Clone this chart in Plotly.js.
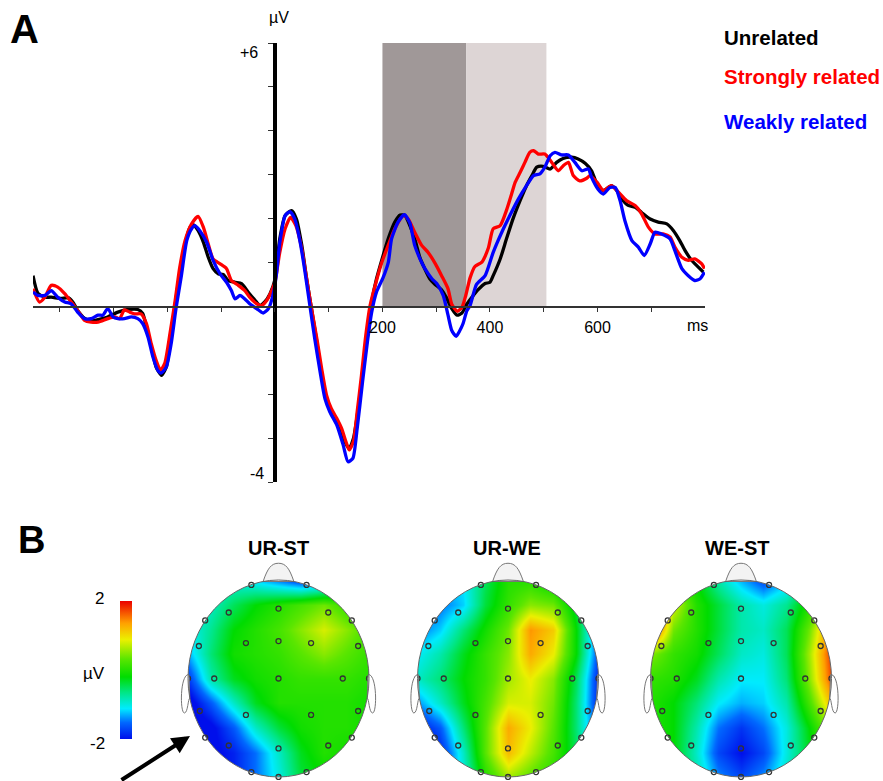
<!DOCTYPE html>
<html>
<head>
<meta charset="utf-8">
<script src="https://cdn.plot.ly/plotly-3.0.1.min.js"></script>
<style>html,body{margin:0;padding:0;background:#fff}#chart{width:883px;height:781px}</style>
</head>
<body>
<div id="chart"></div>
<script>
// ---------- ERP waveforms (time in ms, amplitude in µV) ----------
const timeUnrelated = [-450,-441,-428,-416,-398,-385,-376,-367,-354,-342,-329,-311,-292,-273,-255,-246,-239,-230,-221,-211,-202,-194,-186,-177,-167,-158,-152,-143,-133,-124,-115,-105,-96,-87,-74,-62,-50,-37,-28,-19,-9,0,9,19,31,40,50,59,68,78,87,96,108,121,130,138,146,155,164,174,180,189,201,211,223,233,242,251,260,270,279,288,298,310,319,329,339,348,357,366,378,391,400,406,419,431,443,456,468,478,487,499,512,524,536,552,564,577,589,599,611,626,636,645,657,670,682,698,713,729,741,753,763,775,788,797];
const uvUnrelated = [0.70,0.30,0.21,0.21,0.18,0.20,0.10,-0.09,-0.27,-0.33,-0.30,-0.24,-0.13,-0.07,-0.07,-0.16,-0.47,-0.92,-1.38,-1.57,-1.38,-0.75,0.0,0.75,1.43,1.80,1.86,1.73,1.46,1.12,0.86,0.74,0.73,0.59,0.55,0.52,0.33,0.14,0.02,0.10,0.29,0.61,1.54,2.07,2.18,1.99,1.39,0.63,-0.05,-0.81,-1.57,-2.10,-2.48,-2.78,-3.08,-3.24,-3.01,-2.33,-1.42,-0.51,0.10,0.63,1.15,1.55,1.92,2.08,2.07,1.84,1.54,1.10,0.85,0.63,0.50,0.38,0.20,-0.05,-0.20,-0.15,0.05,0.20,0.38,0.52,0.55,0.70,1.08,1.55,2.00,2.41,2.75,2.98,3.17,3.19,3.13,3.28,3.37,3.40,3.36,3.26,3.09,2.79,2.64,2.75,2.64,2.45,2.30,2.26,2.14,1.99,1.92,1.88,1.73,1.50,1.27,1.05,0.89,0.78];

const timeStrongly = [-450,-438,-428,-416,-404,-391,-379,-367,-354,-342,-329,-311,-298,-289,-280,-270,-261,-249,-239,-230,-221,-213,-205,-195,-186,-177,-167,-155,-143,-133,-124,-115,-102,-90,-81,-68,-56,-47,-34,-25,-15,-6,0,9,19,29,39,50,59,68,78,87,96,105,115,124,132,138,146,153,161,169,177,189,199,211,223,239,248,260,273,285,298,310,322,329,339,348,355,363,372,385,397,406,419,431,440,447,456,465,474,481,490,502,515,527,536,546,555,567,580,586,599,611,626,639,654,670,682,695,707,722,735,744,757,769,781,794,799];
const uvStrongly = [0.40,0.10,0.21,0.48,0.44,0.29,0.10,-0.09,-0.32,-0.36,-0.36,-0.28,-0.24,-0.28,-0.08,-0.13,-0.17,-0.17,-0.39,-0.85,-1.23,-1.45,-1.30,-0.60,0.10,0.89,1.50,1.88,2.05,1.80,1.42,1.08,0.97,0.86,0.59,0.48,0.36,0.21,0.06,0.02,0.14,0.36,0.55,1.23,1.77,2.03,1.84,1.31,0.63,-0.05,-0.73,-1.42,-2.02,-2.33,-2.55,-2.78,-3.08,-3.27,-3.08,-2.40,-1.57,-0.66,0.02,0.59,1.01,1.40,1.77,2.07,1.99,1.69,1.39,1.23,0.98,0.70,0.40,0.05,-0.11,-0.02,0.25,0.65,0.91,1.01,1.33,1.77,1.84,2.20,2.55,2.83,3.05,3.28,3.51,3.55,3.47,3.47,3.28,3.09,3.20,3.28,2.98,2.86,2.92,2.98,2.83,2.64,2.75,2.60,2.41,2.30,2.11,1.80,1.65,1.65,1.58,1.35,1.12,1.05,1.08,0.97,0.86];

const timeWeakly = [-450,-441,-428,-416,-404,-391,-379,-367,-354,-342,-329,-320,-311,-301,-292,-280,-267,-255,-246,-236,-227,-218,-212,-202,-193,-184,-174,-164,-155,-149,-140,-127,-115,-102,-90,-81,-74,-65,-56,-47,-34,-22,-12,-3,3,9,19,28,37,47,56,65,74,84,93,102,115,127,136,145,153,163,172,180,189,201,211,217,229,241,251,260,270,279,292,301,313,322,329,337,344,350,357,363,375,391,406,422,437,453,468,481,493,502,512,521,533,546,558,571,583,589,601,611,623,633,642,651,664,676,687,698,707,719,735,744,757,769,781,791,799];
const uvWeakly = [0.33,0.25,0.25,0.36,0.21,0.10,0.06,-0.13,-0.28,-0.28,-0.20,-0.20,-0.05,-0.24,-0.28,-0.28,-0.24,-0.28,-0.39,-0.70,-1.15,-1.45,-1.52,-1.38,-0.85,-0.05,0.70,1.50,1.77,1.84,1.73,1.46,1.05,0.74,0.55,0.36,0.17,0.25,0.17,0.06,-0.05,-0.15,-0.05,0.29,0.75,1.45,2.07,2.16,1.99,1.46,0.78,0.02,-0.73,-1.49,-2.10,-2.40,-2.70,-3.16,-3.54,-3.46,-2.78,-1.72,-0.81,-0.13,0.33,0.65,1.01,1.54,1.92,2.09,1.90,1.39,1.08,0.86,0.63,0.52,0.25,-0.20,-0.55,-0.68,-0.55,-0.39,-0.10,0.02,0.50,0.70,1.23,1.69,2.07,2.45,2.75,2.98,3.02,3.17,3.43,3.51,3.45,3.45,3.28,3.09,3.13,2.94,2.67,2.56,2.71,2.71,2.41,1.95,1.50,1.35,1.16,1.42,1.69,1.65,1.54,1.27,0.86,0.70,0.59,0.63,0.78];

const seriesNames = ["Unrelated", "Strongly related", "Weakly related"];
const windowsMs = [[200, 356], [356, 505]];     // analysis windows
const xTickVals = [-400,-300,-200,-100,0,100,200,300,400,500,600,700];
const xTickText = ["","","","","","","200","","400","","600",""];
const yTickVals = [-4,-3,-2,-1,0,1,2,3,4,5,6];

// ---------- Topographic maps (µV, grid rows top -> bottom, cols left -> right) ----------
const mapTitles = ["UR-ST", "UR-WE", "WE-ST"];
const gridPos = [-1,-0.75,-0.5,-0.25,0,0.25,0.5,0.75,1];
const mapURST = [
  [-1.0,-1.0,-1.0,-1.2,-1.5,-1.8,-1.6,-1.0,-0.5],
  [-1.0,-0.9,-0.5,-0.2, 0.0, 0.2, 0.4, 0.1,-0.2],
  [-1.1,-0.7,-0.2, 0.0, 0.2, 0.5, 0.8, 0.5, 0.2],
  [-1.3,-0.6,-0.1, 0.0, 0.1, 0.3, 0.5, 0.3, 0.1],
  [-1.8,-0.8,-0.3,-0.1, 0.0, 0.1, 0.1, 0.1, 0.0],
  [-2.2,-1.6,-0.9,-0.3, 0.0, 0.0, 0.0, 0.0,-0.1],
  [-2.3,-2.1,-1.6,-0.9,-0.4,-0.1, 0.0, 0.0,-0.1],
  [-2.3,-2.1,-1.9,-1.5,-0.9,-0.3, 0.0,-0.1,-0.2],
  [-2.0,-2.0,-1.9,-1.5,-1.0,-0.4,-0.2,-0.2,-0.2]
];
const mapURWE = [
  [-1.2,-1.3,-1.1,-0.5, 0.0, 0.0,-0.3,-1.0,-1.4],
  [-1.6,-1.5,-1.2,-0.4, 0.1, 0.5, 0.4,-0.4,-1.5],
  [-1.5,-1.2,-0.6,-0.1, 0.4, 1.4, 1.1,-0.2,-1.6],
  [-1.1,-0.8,-0.3, 0.1, 0.5, 1.3, 0.9,-0.2,-1.7],
  [-0.9,-0.6,-0.2, 0.1, 0.6, 0.9, 0.5,-0.5,-1.9],
  [-1.4,-0.9,-0.3, 0.2, 0.8, 0.8, 0.4,-0.6,-1.9],
  [-2.0,-1.6,-0.6, 0.3, 1.3, 0.9, 0.3,-0.6,-1.7],
  [-2.2,-1.9,-0.9, 0.3, 1.2, 0.7, 0.2,-0.5,-1.4],
  [-2.0,-1.8,-1.0, 0.0, 0.6, 0.3, 0.0,-0.4,-1.0]
];
const mapWEST = [
  [ 0.5, 0.3,-0.2,-0.8,-1.3,-1.7,-1.3,-0.5, 0.2],
  [ 2.6, 0.8, 0.0,-0.4,-0.8,-1.0,-0.7, 0.0, 0.8],
  [ 2.0, 0.4, 0.0,-0.4,-0.8,-0.9,-0.5, 0.4, 1.6],
  [ 0.5, 0.1,-0.1,-0.5,-0.9,-1.0,-0.5, 0.6, 1.8],
  [ 0.1, 0.0,-0.3,-0.8,-1.1,-1.1,-0.6, 0.5, 1.7],
  [ 0.0,-0.2,-0.6,-1.1,-1.3,-1.2,-0.8, 0.2, 1.2],
  [ 0.0,-0.2,-0.8,-1.5,-1.8,-1.5,-1.0,-0.2, 0.6],
  [ 0.0,-0.2,-0.9,-1.7,-2.0,-1.7,-1.0,-0.3, 0.2],
  [ 0.0,-0.2,-0.8,-1.4,-1.7,-1.4,-0.9,-0.3, 0.0]
];
// electrode positions on the unit head
const elecX = [-0.30,0.31,-0.55,0,0.55,-0.81,0.81,-0.88,-0.36,0,0.36,0.88,-1,-0.71,0,0.71,1,-0.87,-0.36,0.36,0.88,-0.81,-0.55,0,0.55,0.81,-0.30,0.31,0];
const elecY = [0.95,0.95,0.67,0.71,0.67,0.59,0.59,0.33,0.36,0.38,0.36,0.33,0,0,0,0,0,-0.33,-0.37,-0.37,-0.33,-0.60,-0.68,-0.71,-0.68,-0.60,-0.95,-0.95,-1.0];

// ---------- figure ----------
const W = 883, H = 781;
const FONT = "Liberation Sans, Arial, sans-serif";
const px = v => v / W, py = v => 1 - v / H;

const colors = ["#000000", "#ff0000", "#0000ff"];
const times = [timeUnrelated, timeStrongly, timeWeakly];
const vals = [uvUnrelated, uvStrongly, uvWeakly];

const traces = [];
for (let i = 0; i < 3; i++) {
  traces.push({
    type: "scatter", mode: "lines", name: seriesNames[i],
    x: times[i], y: vals[i], xaxis: "x", yaxis: "y",
    line: {color: colors[i], width: 3.3, shape: "spline", smoothing: 0.6},
    hoverinfo: "skip"
  });
}

const maps = [mapURST, mapURWE, mapWEST];
const headCx = [278.5, 508, 741];
const RX = 90.5, RY = 98.5, CY = 678.5;

const layout = {
  width: W, height: H, margin: {l: 0, r: 0, t: 0, b: 0},
  paper_bgcolor: "#fff", plot_bgcolor: "rgba(0,0,0,0)",
  showlegend: false, font: {family: FONT, color: "#000"},
  xaxis: {
    domain: [px(33), px(705)], range: [-450, 800], anchor: "free", position: py(306),
    showline: true, linecolor: "#333", linewidth: 1.5, showgrid: false, zeroline: false,
    tickvals: xTickVals, ticktext: xTickText, ticks: "outside", ticklen: 4, tickcolor: "#333",
    tickfont: {size: 16, family: FONT}, ticklabelstandoff: 2, fixedrange: true
  },
  yaxis: {
    domain: [py(482), py(43)], range: [-4, 6], anchor: "free", position: px(275),
    showline: true, linecolor: "#000", linewidth: 4, showgrid: false, zeroline: false,
    tickvals: yTickVals, ticks: "outside", ticklen: 5, tickcolor: "#333", showticklabels: false,
    fixedrange: true
  },
  coloraxis: {
    cmin: -2, cmax: 2,
    colorscale: [[0,"rgb(0,15,235)"],[0.12,"rgb(0,105,255)"],[0.22,"rgb(0,235,255)"],[0.34,"rgb(0,230,130)"],
                 [0.45,"rgb(0,220,0)"],[0.58,"rgb(90,230,0)"],[0.72,"rgb(235,240,0)"],[0.84,"rgb(255,160,0)"],[1,"rgb(235,0,0)"]],
    colorbar: {x: px(110), xanchor: "left", y: py(670), yanchor: "middle", len: 158, lenmode: "pixels",
               thickness: 12, showticklabels: false, ticks: "", outlinewidth: 0}
  },
  shapes: [],
  annotations: []
};

// analysis window shading
const shadeColors = ["#a09898", "#ddd5d5"];
windowsMs.forEach((w, i) => layout.shapes.push({
  type: "rect", xref: "x", yref: "y", x0: w[0], x1: w[1], y0: 0, y1: 6,
  fillcolor: shadeColors[i], line: {width: 0}, layer: "below"
}));

// topographic heads
maps.forEach((m, i) => {
  const n = i + 2, xa = "x" + n, ya = "y" + n;
  const cx = headCx[i];
  layout["xaxis" + n] = {domain: [px(cx - 1.25 * RX), px(cx + 1.25 * RX)], range: [-1.25, 1.25],
                         visible: false, anchor: ya, fixedrange: true};
  layout["yaxis" + n] = {domain: [py(CY + 1.03 * RY), py(CY - 1.22 * RY)], range: [-1.03, 1.22],
                         visible: false, anchor: xa, fixedrange: true};
  traces.push({type: "heatmap", x: gridPos, y: gridPos, z: m.slice().reverse(), zsmooth: "best",
               coloraxis: "coloraxis", xaxis: xa, yaxis: ya, hoverinfo: "skip"});
  // white mask outside scalp
  const mx = [1.4, 1.4, -1.4, -1.4, 1.4, 1.4, 1], my = [0, 1.4, 1.4, -1.4, -1.4, 0, 0];
  for (let k = 0; k <= 96; k++) { const t = -2 * Math.PI * k / 96; mx.push(Math.cos(t)); my.push(Math.sin(t)); }
  mx.push(1.4); my.push(0);
  traces.push({type: "scatter", mode: "lines", x: mx, y: my, fill: "toself", fillcolor: "#ffffff",
               line: {width: 0, color: "rgba(0,0,0,0)"}, xaxis: xa, yaxis: ya, hoverinfo: "skip"});
  traces.push({type: "scatter", mode: "markers", x: elecX, y: elecY, xaxis: xa, yaxis: ya, hoverinfo: "skip",
               marker: {symbol: "circle-open", size: 5, color: "#333", line: {width: 1.3, color: "#333"}}});
  // nose, ears, outline
  layout.shapes.push({type: "path", xref: xa, yref: ya, layer: "above",
    path: "M -0.17,0.985 C -0.12,1.12 -0.08,1.17 0,1.17 C 0.08,1.17 0.12,1.12 0.17,0.985 Z",
    fillcolor: "#f3f3f3", line: {color: "#777", width: 1}});
  layout.shapes.push({type: "path", xref: xa, yref: ya, layer: "above",
    path: "M -0.99,0.04 C -1.09,0.05 -1.09,-0.35 -1.04,-0.35 C -1.0,-0.35 -1.0,-0.2 -0.98,-0.2 Z",
    fillcolor: "#ffffff", line: {color: "#777", width: 1}});
  layout.shapes.push({type: "path", xref: xa, yref: ya, layer: "above",
    path: "M 0.99,0.04 C 1.09,0.05 1.09,-0.35 1.04,-0.35 C 1.0,-0.35 1.0,-0.2 0.98,-0.2 Z",
    fillcolor: "#ffffff", line: {color: "#777", width: 1}});
  layout.shapes.push({type: "circle", xref: xa, yref: ya, x0: -1, x1: 1, y0: -1, y1: 1, layer: "above",
    line: {color: "#666", width: 1}});
  layout.annotations.push({text: "<b>" + mapTitles[i] + "</b>", xref: "paper", yref: "paper",
    x: px([278, 507, 737][i]), y: py(548), xanchor: "center", yanchor: "middle", showarrow: false,
    font: {size: 20, family: FONT}});
});

const ann = (text, x, y, size, opts) => Object.assign({text, xref: "paper", yref: "paper", x: px(x), y: py(y),
  xanchor: "center", yanchor: "middle", showarrow: false, font: {size, family: FONT, color: "#000"}}, opts || {});

layout.annotations.push(
  ann("<b>A</b>", 24, 29, 40),
  ann("<b>B</b>", 31, 540, 38),
  ann("µV", 279, 17, 16),
  ann("+6", 249, 52, 16),
  ann("-4", 257, 473, 16),
  ann("ms", 697, 325, 16),
  ann("<b>" + seriesNames[0] + "</b>", 722, 37, 20.5, {xanchor: "left", font: {size: 20.5, family: FONT, color: colors[0]}}),
  ann("<b>" + seriesNames[1] + "</b>", 722, 77, 20.5, {xanchor: "left", font: {size: 20.5, family: FONT, color: colors[1]}}),
  ann("<b>" + seriesNames[2] + "</b>", 722, 122, 20.5, {xanchor: "left", font: {size: 20.5, family: FONT, color: colors[2]}}),
  ann("2", 106, 598, 17, {xanchor: "right"}),
  ann("µV", 107, 673, 17, {xanchor: "right"}),
  ann("-2", 107, 743, 17, {xanchor: "right"}),
  {text: "", xref: "paper", yref: "paper", x: px(190), y: py(736), ax: -70, ay: 52,
   showarrow: true, arrowhead: 2, arrowsize: 0.9, arrowwidth: 4, arrowcolor: "#000"}
);

Plotly.newPlot("chart", traces, layout, {displayModeBar: false, staticPlot: true});
</script>
</body>
</html>
